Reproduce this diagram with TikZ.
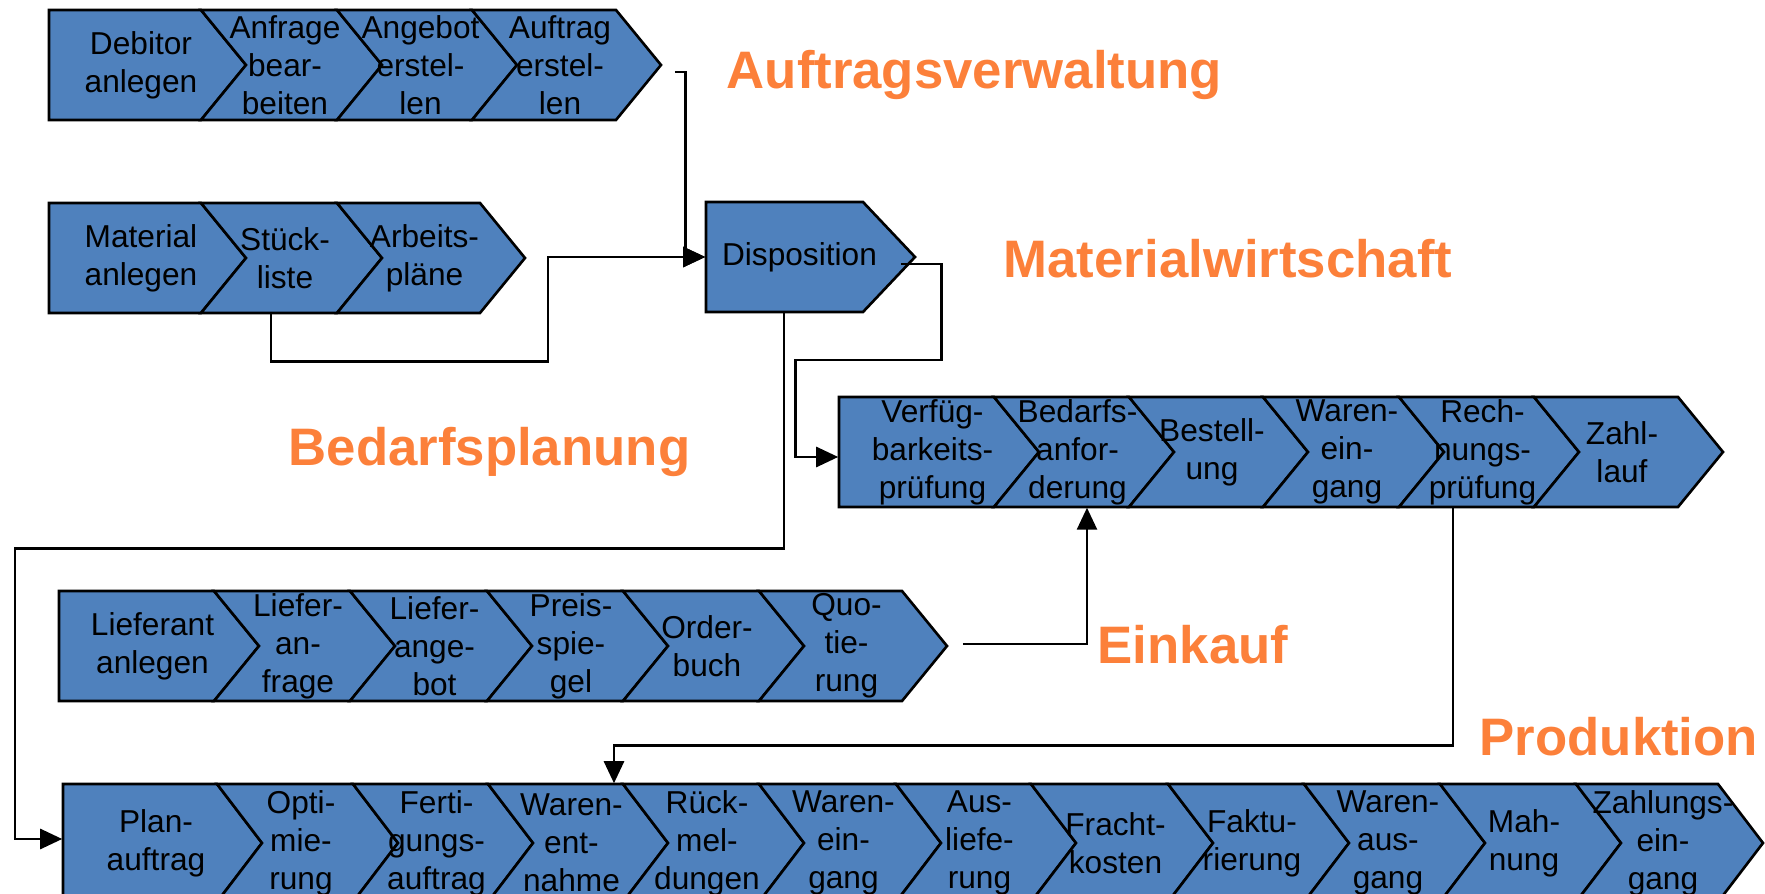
\documentclass[tikz,border=0pt]{standalone}
\usepackage{fontspec}
\setmainfont{Liberation Sans}
\usetikzlibrary{arrows.meta,positioning}
\definecolor{chevblue}{RGB}{79,129,189}
\definecolor{areaorange}{RGB}{252,128,58}
\tikzset{
  chev/.style={fill=chevblue, draw=black, line width=0.75pt, line join=miter},
  chevtext/.style={inner sep=0pt, align=center, minimum height=1.1cm, font={\fontsize{9pt}{10.8pt}\selectfont}},
  conn/.style={line width=0.75pt, -{Triangle[length=0.22cm,width=0.2cm]}},
  areatitle/.style={anchor=base west, inner sep=0pt, text=areaorange, font={\fontsize{15pt}{18pt}\selectfont\bfseries}}
}
\begin{document}
\begin{tikzpicture}[x=0.01cm, y=-0.01cm]
\useasboundingbox (0,0) rectangle (1765,894);
\clip (0,0) rectangle (1765,894);

% Chain Auftragsverwaltung
\foreach \xl/\xr/\nd/\txt [count=\i] in {49/201/0/{Debitor\\anlegen}, 201/337/45/{Anfrage\\bear-\\beiten},
    337/472/45/{Angebot\\erstel-\\len}, 472/616/45/{Auftrag\\erstel-\\len}}{
  \pgfmathsetmacro\bw{(\xr+32-\xl)/100}
  \draw[chev] (\xl,10) -- (\xr,10) -- ({\xr+45},65) -- (\xr,120) -- (\xl,120) -- ({\xl+\nd},65) -- cycle;
  \node[chevtext, minimum width=\bw cm] (a\i) at ({(\xl+\xr+32)/2},65) {\txt};
}

% Chain Stammdaten
\foreach \xl/\xr/\nd/\txt [count=\i] in {49/201/0/{Material\\anlegen}, 201/337/45/{Stück-\\liste},
    337/480/45/{Arbeits-\\pläne}}{
  \pgfmathsetmacro\bw{(\xr+32-\xl)/100}
  \draw[chev] (\xl,203) -- (\xr,203) -- ({\xr+45},258) -- (\xr,313) -- (\xl,313) -- ({\xl+\nd},258) -- cycle;
  \node[chevtext, minimum width=\bw cm] (b\i) at ({(\xl+\xr+32)/2},258) {\txt};
}

% Disposition
\draw[chev] (706,202) -- (863,202) -- (915,257) -- (863,312) -- (706,312) -- cycle;
\node[chevtext, minimum width=1.87cm] (dispo) at (799.5,257) {Disposition};

% Chain Materialwirtschaft
\foreach \xl/\xr/\nd/\txt [count=\i] in {839/994/0/{Verfüg-\\barkeits-\\prüfung}, 994/1129/45/{Bedarfs-\\anfor-\\derung},
    1129/1263/45/{Bestell-\\ung}, 1263/1399/45/{Waren-\\ein-\\gang}, 1399/1534/45/{Rech-\\nungs-\\prüfung},
    1534/1678/45/{Zahl-\\lauf}}{
  \pgfmathsetmacro\bw{(\xr+32-\xl)/100}
  \draw[chev] (\xl,397) -- (\xr,397) -- ({\xr+45},452) -- (\xr,507) -- (\xl,507) -- ({\xl+\nd},452) -- cycle;
  \node[chevtext, minimum width=\bw cm] (m\i) at ({(\xl+\xr+32)/2},452) {\txt};
}

% Chain Einkauf
\foreach \xl/\xr/\nd/\txt [count=\i] in {59/214/0/{Lieferant\\anlegen}, 214/350/45/{Liefer-\\an-\\frage},
    350/487/45/{Liefer-\\ange-\\bot}, 487/623/45/{Preis-\\spie-\\gel}, 623/759/45/{Order-\\buch},
    759/902/45/{Quo-\\tie-\\rung}}{
  \pgfmathsetmacro\bw{(\xr+32-\xl)/100}
  \draw[chev] (\xl,591) -- (\xr,591) -- ({\xr+45},646) -- (\xr,701) -- (\xl,701) -- ({\xl+\nd},646) -- cycle;
  \node[chevtext, minimum width=\bw cm] (e\i) at ({(\xl+\xr+32)/2},646) {\txt};
}

% Chain Produktion
\foreach \xl/\xr/\nd/\txt [count=\i] in {63/217/0/{Plan-\\auftrag}, 217/353/45/{Opti-\\mie-\\rung},
    353/488/45/{Ferti-\\gungs-\\auftrag}, 488/623/45/{Waren-\\ent-\\nahme}, 623/759/45/{Rück-\\mel-\\dungen},
    759/896/45/{Waren-\\ein-\\gang}, 896/1031/45/{Aus-\\liefe-\\rung}, 1031/1168/45/{Fracht-\\kosten},
    1168/1304/45/{Faktu-\\rierung}, 1304/1440/45/{Waren-\\aus-\\gang}, 1440/1576/45/{Mah-\\nung},
    1576/1718/45/{Zahlungs-\\ein-\\gang}}{
  \pgfmathsetmacro\bw{(\xr+32-\xl)/100}
  \draw[chev] (\xl,784) -- (\xr,784) -- ({\xr+45},843) -- (\xr,902) -- (\xl,902) -- ({\xl+\nd},843) -- cycle;
  \node[chevtext, minimum width=\bw cm, minimum height=1.18cm] (p\i) at ({(\xl+\xr+32)/2},843) {\txt};
}

% Area titles
\node[areatitle] (tAuftrag) at (726,89) {Auftragsverwaltung};
\node[areatitle] (tMaterial) at (1003,278) {Materialwirtschaft};
\node[areatitle] (tBedarf) at (288,466) {Bedarfsplanung};
\node[areatitle] (tEinkauf) at (1097,663) {Einkauf};
\node[areatitle] (tProd) at (1479,755) {Produktion};

% Connectors
\draw[conn] ([shift={(26,7)}]a4.east) -- ++(11,0) |- (dispo.west);
\draw[conn] ([shift={(-14,0)}]b2.south) -- ++(0,48) -- ++(277,0) |- (dispo.west);
\draw[conn] ([shift={(7,7)}]dispo.east) -- ++(41,0) -- ++(0,96) -- ++(-146,0) |- ([shift={(0,5)}]m1.west);
\draw[conn] ([shift={(-15.5,0)}]dispo.south) -- ++(0,236) -- ++(-769,0) |- ([shift={(0,-4)}]p1.west);
\draw[conn] ([shift={(28,-2)}]e6.east) -| ([shift={(9.5,0)}]m2.south);
\draw[conn] ([shift={(-29.5,0)}]m5.south) -- ++(0,238) -| ([shift={(42.5,0)}]p4.north);
\end{tikzpicture}
\end{document}
